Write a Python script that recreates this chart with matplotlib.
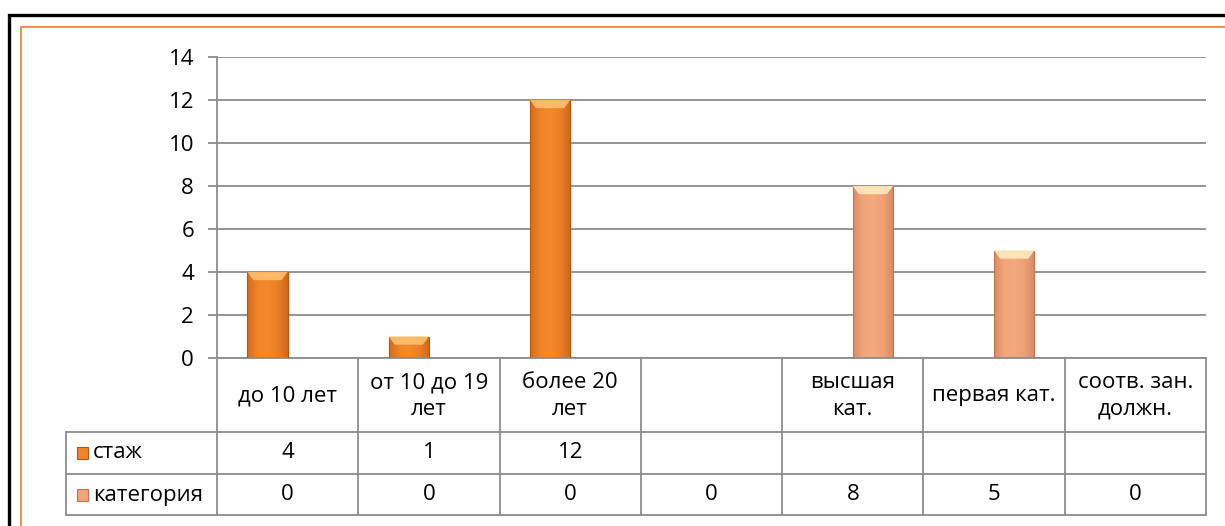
import numpy as np
import matplotlib.pyplot as plt
from matplotlib.patches import Rectangle, Polygon
from matplotlib.colors import LinearSegmentedColormap
from matplotlib.transforms import blended_transform_factory

plt.rcParams['font.family'] = ['Open Sans', 'DejaVu Sans']

# данные
categories = ['до 10 лет', 'от 10 до 19\nлет', 'более 20\nлет', '',
              'высшая\nкат.', 'первая кат.', 'соотв. зан.\nдолжн.']
staj = [4, 1, 12, None, None, None, None]
kategoria = [0, 0, 0, 0, 8, 5, 0]
series_names = ['стаж', 'категория']
yticks = [0, 2, 4, 6, 8, 10, 12, 14]

W, H = 1225, 526
fig = plt.figure(figsize=(W / 100, H / 100), dpi=100)

def fx(x):
    return x / W

def fy(y):
    return 1 - y / H

# рамки
fig.patches.append(Rectangle((fx(8.5), fy(600)), 2, fy(15) - fy(600), transform=fig.transFigure,
                             fill=False, ec='black', lw=2.4, zorder=0))
fig.patches.append(Rectangle((fx(20.5), fy(600)), 2, fy(27) - fy(600), transform=fig.transFigure,
                             fill=False, ec='#ED7D31', lw=1.2, zorder=0))

ax = fig.add_axes([fx(217), fy(358), fx(1206) - fx(217), fy(57) - fy(358)])
ax.set_xlim(-0.5, 6.5)
ax.set_ylim(0, 14)
ax.set_yticks(yticks)
ax.yaxis.grid(True, color='#8C8C8C', lw=1.3)
ax.set_axisbelow(True)
ax.set_xticks([])
for s in ['top', 'right']:
    ax.spines[s].set_visible(False)
for s in ['left', 'bottom']:
    ax.spines[s].set_color('#8C8C8C')
    ax.spines[s].set_linewidth(1.3)
ax.tick_params(axis='y', length=6.5, width=1.3, color='#8C8C8C', pad=10, labelsize=16)

grey = '#8C8C8C'
fs = 16
bw = 0.285
x = np.arange(len(categories))
styles = [
    (['#D46C1C', '#F0842A', '#F3892C', '#EC7F26', '#D06818'], '#FFC070', '#B05812'),
    (['#DD8C64', '#F2A47A', '#F4A97E', '#EFA074', '#D98A62'], '#FFEBBE', '#BC7454'),
]

def draw_bar(xc, h, st):
    cols, cap, edge = st
    if h is None or h <= 0:
        return
    x0, x1 = xc - bw / 2, xc + bw / 2
    rect = Rectangle((x0, 0), bw, h, fc='none', ec=edge, lw=0.8, zorder=3)
    ax.add_patch(rect)
    cmap = LinearSegmentedColormap.from_list('g', cols)
    im = ax.imshow(np.linspace(0, 1, 64).reshape(1, -1), cmap=cmap, aspect='auto',
                   extent=[x0, x1, 0, h], zorder=2)
    im.set_clip_path(rect)
    c = 0.38
    d = bw * 0.15
    ax.add_patch(Polygon([(x0, h), (x1, h), (x1 - d, h - c), (x0 + d, h - c)],
                         closed=True, fc=cap, ec='none', alpha=0.9, zorder=4))

for i in x:
    draw_bar(i - bw / 2, staj[i], styles[0])
    draw_bar(i + bw / 2, kategoria[i], styles[1])

ax.set_xlim(-0.5, 6.5)
ax.set_ylim(0, 14)

# таблица данных
tr = blended_transform_factory(ax.transData, fig.transFigure)
bounds = np.arange(len(categories) + 1) - 0.5
for b in bounds:
    fig.add_artist(plt.Line2D([b, b], [fy(358), fy(515)], transform=tr, color=grey, lw=1.3))
for yy in [432, 474, 515]:
    fig.add_artist(plt.Line2D([fx(66), fx(1206)], [fy(yy), fy(yy)], transform=fig.transFigure,
                              color=grey, lw=1.3))
fig.add_artist(plt.Line2D([fx(66), fx(66)], [fy(432), fy(515)], transform=fig.transFigure,
                          color=grey, lw=1.3))

for i, lab in enumerate(categories):
    fig.text(i, fy(396), lab, transform=tr, ha='center', va='center', fontsize=fs,
             linespacing=1.35)
    if staj[i] is not None:
        fig.text(i, fy(453), str(staj[i]), transform=tr, ha='center', va='center', fontsize=fs)
    fig.text(i, fy(495), str(kategoria[i]), transform=tr, ha='center', va='center', fontsize=fs)

for yy, name, st in [(453, series_names[0], styles[0]), (495, series_names[1], styles[1])]:
    fig.patches.append(Rectangle((fx(77), fy(yy + 6)), fx(11), fy(yy - 6) - fy(yy + 6),
                                 transform=fig.transFigure, fc=st[0][1], ec=st[2], lw=0.8))
    fig.text(fx(93), fy(yy), name, ha='left', va='center', fontsize=fs)

fig.savefig('out.png', dpi=100)
